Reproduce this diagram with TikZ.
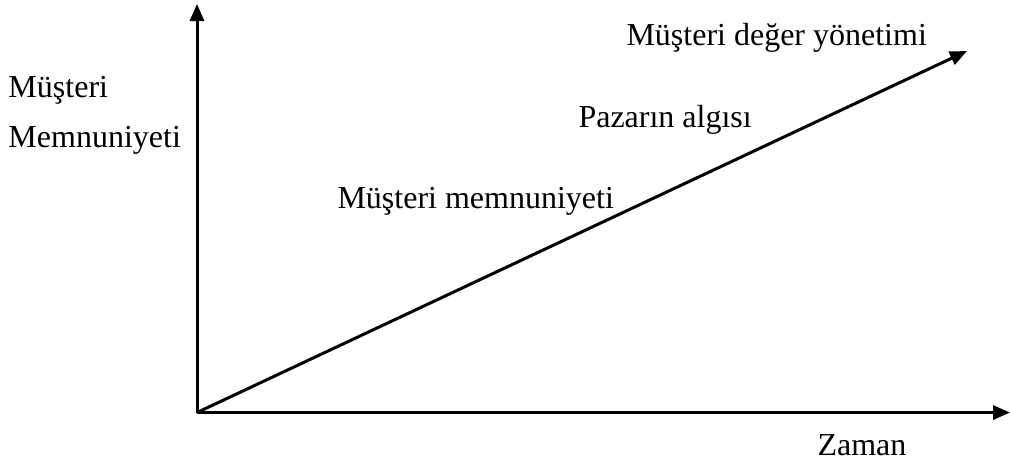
\documentclass[tikz,border=0pt]{standalone}
\usepackage{fontspec}
\setmainfont{Liberation Serif}
\usepackage{tikz}
\usetikzlibrary{arrows.meta,positioning,calc}

\begin{document}
\begin{tikzpicture}[
        x=0.4pt, y=-0.4pt,
        axis/.style={line width=1.2pt, -{Triangle[length=6.8pt, width=5.6pt]}},
        lbl/.style={anchor=base west, inner sep=0pt, font=\fontsize{12.8}{15}\selectfont}
    ]

    \useasboundingbox (0,0) rectangle (1010,463);

    % Axes
    \coordinate (origin) at (197,412.5);
    \coordinate (ytip) at (197,4);
    \coordinate (xtip) at (1010,412.5);
    \coordinate (dtip) at (967,51);

    \draw[axis] (origin) -- (ytip);
    \draw[axis] (origin) -- (xtip);
    \draw[axis] (origin) -- (dtip);

    % Axis labels
    \node[lbl] (ylabA) at (8,97) {Müşteri};
    \node[lbl] (ylabB) at (8,147) {Memnuniyeti};
    \node[lbl] (xlab) at (817,455) {Zaman};

    % Stages along the line
    \node[lbl] (memn) at (337,208) {Müşteri memnuniyeti};
    \node[lbl] (pazar) at (578,127) {Pazarın algısı};
    \node[lbl] (deger) at (626,45) {Müşteri değer yönetimi};

\end{tikzpicture}
\end{document}
